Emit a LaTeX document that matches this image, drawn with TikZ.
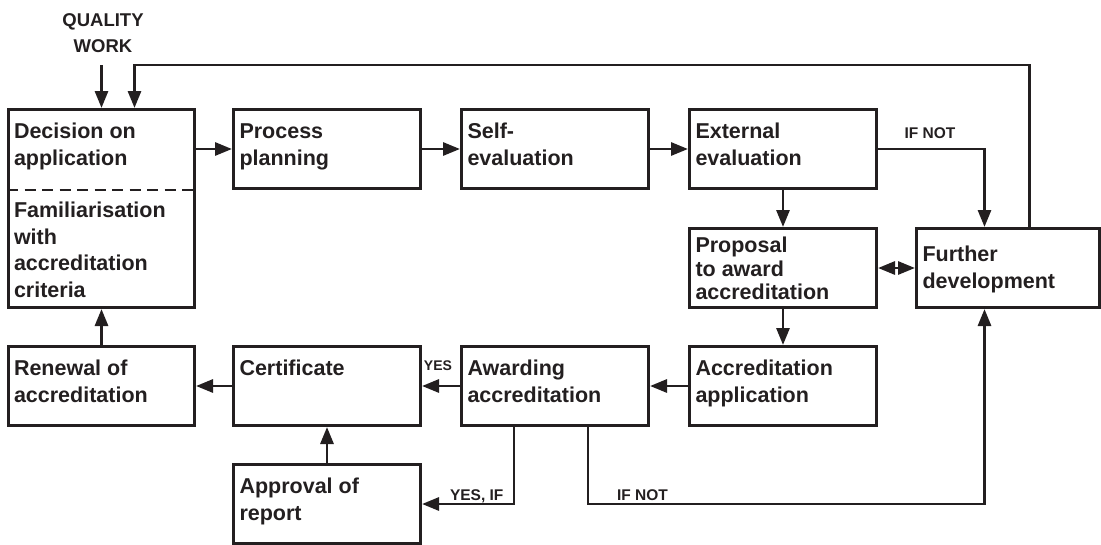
\documentclass[tikz,border=0pt]{standalone}
\usepackage{fontspec}
\setmainfont{Liberation Sans}
\usetikzlibrary{arrows.meta}
\definecolor{ink}{RGB}{35,31,32}
\newcommand\bxtxt[3]{\parbox[t][#2][t]{#1}{\raggedright\rule{0pt}{29pt}#3}}
\begin{document}
\begin{tikzpicture}[x=1pt,y=-1pt,
  box/.style={draw=ink, line width=3pt, anchor=north west, inner sep=0pt,
    minimum width=187pt, minimum height=79pt, text=ink,
    font=\bfseries\fontsize{21.5}{26.5}\selectfont},
  tipT/.tip={Triangle[length=17pt,width=13pt]},
  arr/.style={draw=ink, line width=2.9pt, -tipT},
  lbl/.style={text=ink, inner sep=0pt, anchor=base, font=\bfseries\fontsize{15.5}{18}\selectfont}]
\useasboundingbox (0,0) rectangle (1101,544);

% boxes
\node[box, minimum width=186pt, minimum height=198pt] (dec) at (7,108)
  {\parbox[t][198pt][t]{175pt}{\raggedright\rule{0pt}{29pt}Decision on\\application\\[26pt]Familiarisation\\with\\accreditation\\criteria}};
\node[box] (pp) at (232,108) {\bxtxt{175pt}{79pt}{Process\\planning}};
\node[box] (se) at (460,108) {\bxtxt{175pt}{79pt}{Self-\\evaluation}};
\node[box] (ext) at (688,108) {\bxtxt{175pt}{79pt}{External\\evaluation}};
\node[box] (prop) at (688,227)
  {\parbox[t][79pt][t]{175pt}{\fontsize{21.5}{23.5}\selectfont\raggedright\rule{0pt}{24pt}Proposal\\to award\\accreditation}};
\node[box, minimum width=183pt] (fur) at (915,227)
  {\parbox[t][79pt][t]{171pt}{\raggedright\rule{0pt}{33pt}Further\\development}};
\node[box] (acc) at (688,345) {\bxtxt{175pt}{79pt}{Accreditation\\application}};
\node[box] (aw) at (460,345) {\bxtxt{175pt}{79pt}{Awarding\\accreditation}};
\node[box] (cert) at (232,345) {\bxtxt{175pt}{79pt}{Certificate}};
\node[box, minimum width=186pt] (ren) at (7,345) {\bxtxt{175pt}{79pt}{Renewal of\\accreditation}};
\node[box] (appr) at (232,463) {\bxtxt{175pt}{79pt}{Approval of\\report}};

% dashed divider
\draw[ink, line width=2.6pt, dash pattern=on 11pt off 6.5pt]
  (dec.north west |- pp.south) -- (dec.north east |- pp.south);

% labels
\node[lbl, font=\bfseries\fontsize{18.5}{26.5}\selectfont, align=center, anchor=south] (qw) at (103,53.3) {QUALITY\\WORK};
\node[lbl] (l1) at (930,138.3) {IF NOT};
\node[lbl, font=\bfseries\fontsize{14}{16}\selectfont] (l2) at (438,370) {YES};
\node[lbl] (l3) at (476.7,500.7) {YES, IF};
\node[lbl] (l4) at (642.5,500.7) {IF NOT};

% connectors
\coordinate (qwa) at ([yshift=-11.7pt]qw.south);
\draw[arr] (qwa -| dec.north) -- (dec.north);
\coordinate (fout) at ([xshift=21.5pt]fur.north);
\coordinate (fbin) at ([xshift=33pt]dec.north);
\draw[arr] (fout) |- ([yshift=43pt]fbin) -- (fbin);

\draw[arr] (dec.north east |- pp.west) -- (pp.west);
\draw[arr] (pp.east) -- (se.west);
\draw[arr] (se.east) -- (ext.west);
\coordinate (fin1) at ([xshift=-23.5pt]fur.north);
\draw[arr] (ext.east) -| (fin1);
\draw[arr] (ext.south) -- (prop.north);
\draw[arr, tipT-tipT] (prop.east) -- (fur.west);
\draw[arr] (prop.south) -- (acc.north);
\draw[arr] (acc.west) -- (aw.east);
\draw[arr] (aw.west) -- (cert.east);
\draw[arr] (cert.west) -- (ren.east);
\draw[arr] (appr.north) -- (cert.south);
\draw[arr] (ren.north) -- (dec.south);
\draw[arr] ([xshift=54pt]aw.south west) |- (appr.east);
\coordinate (fin2) at ([xshift=-23.5pt]fur.south);
\draw[arr] ([xshift=128pt]aw.south west) |- (fin2 |- appr.east) -- (fin2);
\end{tikzpicture}
\end{document}
